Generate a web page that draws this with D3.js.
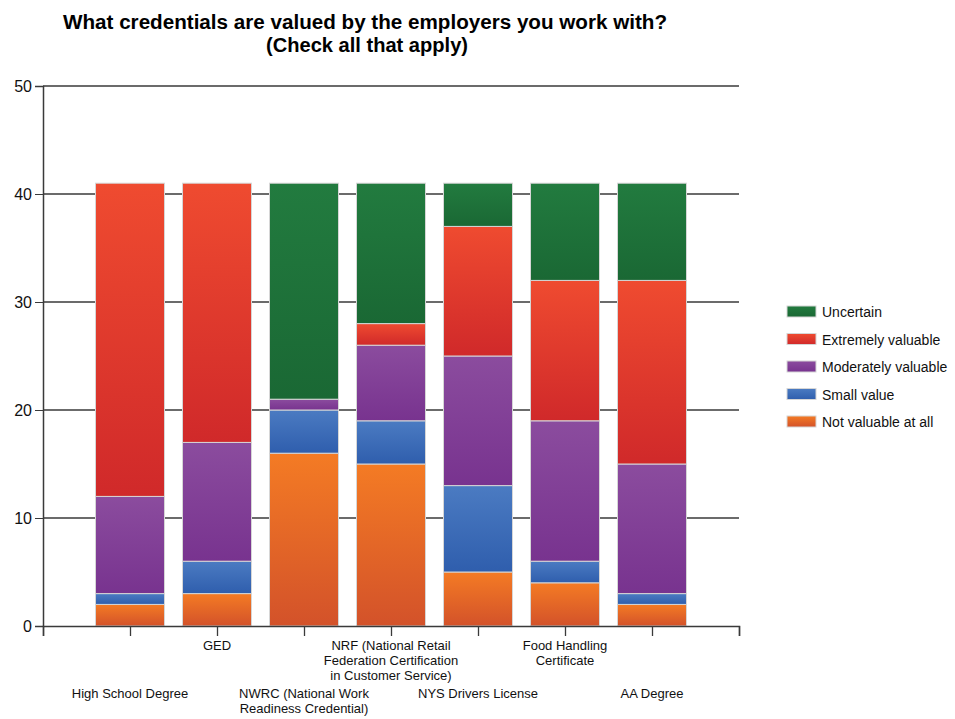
<!DOCTYPE html>
<html>
<head>
<meta charset="utf-8">
<script src="https://cdn.jsdelivr.net/npm/d3@7"></script>
<style>
  body { margin: 0; background: #fff; }
  text { font-family: "Liberation Sans", Arial, sans-serif; }
</style>
</head>
<body>
<script>
var categories = ["High School Degree", "GED", "NWRC (National Work Readiness Credential)",
                  "NRF (National Retail Federation Certification in Customer Service)",
                  "NYS Drivers License", "Food Handling Certificate", "AA Degree"];
// label lines as they wrap in the picture
var labelLines = [["High School Degree"], ["GED"], ["NWRC (National Work", "Readiness Credential)"],
                  ["NRF (National Retail", "Federation Certification", "in Customer Service)"],
                  ["NYS Drivers License"], ["Food Handling", "Certificate"], ["AA Degree"]];
var seriesNames = ["Not valuable at all", "Small value", "Moderately valuable", "Extremely valuable", "Uncertain"];
var notValuable = [2, 3, 16, 15, 5, 4, 2];
var smallValue  = [1, 3, 4, 4, 8, 2, 1];
var moderately  = [9, 11, 1, 7, 12, 13, 12];
var extremely   = [29, 24, 0, 2, 12, 13, 17];
var uncertain   = [0, 0, 20, 13, 4, 9, 9];
var yTicks = [0, 10, 20, 30, 40, 50];

var colorsTop = ["#f47b24", "#4b7bc2", "#8b4c9e", "#ef4b30", "#227b3f"];
var colorsBot = ["#d3522a", "#2f5ead", "#78338f", "#d0292a", "#1a6834"];

var W = 955, H = 719;
var svg = d3.select("body").append("svg").attr("width", W).attr("height", H);

var x = d3.scaleLinear().domain([0, 8]).range([43, 739]);
var y = d3.scaleLinear().domain([0, 50]).range([626, 86]);
var barW = 69;

// gradients, lighter at top
var defs = svg.append("defs");
seriesNames.forEach(function (s, i) {
  var g = defs.append("linearGradient").attr("id", "g" + i)
      .attr("x1", 0).attr("y1", 0).attr("x2", 0).attr("y2", 1);
  g.append("stop").attr("offset", "0%").attr("stop-color", colorsTop[i]);
  g.append("stop").attr("offset", "100%").attr("stop-color", colorsBot[i]);
});

// title (the original font is a condensed one, so squeeze it to width)
svg.append("text").attr("x", 365).attr("y", 29).attr("text-anchor", "middle")
   .attr("font-size", "20px").attr("font-weight", "bold")
   .attr("textLength", 604).attr("lengthAdjust", "spacingAndGlyphs")
   .text("What credentials are valued by the employers you work with?");
svg.append("text").attr("x", 367).attr("y", 52).attr("text-anchor", "middle")
   .attr("font-size", "20px").attr("font-weight", "bold")
   .attr("textLength", 202).attr("lengthAdjust", "spacingAndGlyphs")
   .text("(Check all that apply)");

// gridlines
svg.append("g").selectAll("line").data(yTicks.slice(1)).enter().append("line")
   .attr("x1", x(0)).attr("x2", x(8))
   .attr("y1", function (d) { return y(d); }).attr("y2", function (d) { return y(d); })
   .attr("stroke", "#3a3a3a").attr("stroke-width", 1.3);

// stacked bars
var table = categories.map(function (c, i) {
  return { cat: c, v: [notValuable[i], smallValue[i], moderately[i], extremely[i], uncertain[i]] };
});
var stack = d3.stack().keys([0, 1, 2, 3, 4]).value(function (d, k) { return d.v[k]; });
var layers = stack(table);

svg.append("g").selectAll("g").data(layers).enter().append("g")
   .attr("fill", function (d, i) { return "url(#g" + i + ")"; })
   .selectAll("rect").data(function (d) { return d.filter(function (p) { return p[1] > p[0]; }); })
   .enter().append("rect")
   .attr("x", function (d) { return x(table.indexOf(d.data) + 1) - barW / 2; })
   .attr("y", function (d) { return y(d[1]); })
   .attr("width", barW)
   .attr("height", function (d) { return y(d[0]) - y(d[1]); })
   .attr("stroke", "#d6d6d6").attr("stroke-width", 1);

// y axis
var yAxis = d3.axisLeft(y).tickValues(yTicks).tickSize(8).tickPadding(3);
var gy = svg.append("g").attr("transform", "translate(" + x(0) + ",0)").call(yAxis);
gy.select(".domain").attr("stroke", "#3a3a3a").attr("stroke-width", 1.5);
gy.selectAll(".tick line").attr("stroke", "#3a3a3a");
gy.selectAll(".tick text").attr("font-size", "16px").attr("fill", "#111")
  .style("font-family", "'Liberation Sans', Arial, sans-serif");

// x axis
var xAxis = d3.axisBottom(x).tickValues(d3.range(0, 9)).tickSize(10).tickFormat("");
var gx = svg.append("g").attr("transform", "translate(0," + y(0) + ")").call(xAxis);
gx.select(".domain").attr("stroke", "#3a3a3a").attr("stroke-width", 1.5);
gx.selectAll(".tick line").attr("stroke", "#3a3a3a").attr("stroke-width", 1.3);

// category labels, staggered rows
svg.append("g").selectAll("text").data(labelLines).enter().append("text")
   .attr("text-anchor", "middle").attr("font-size", "13px").attr("fill", "#111")
   .attr("transform", function (d, i) {
     return "translate(" + x(i + 1) + "," + (i % 2 === 1 ? 650 : 698) + ")";
   })
   .selectAll("tspan").data(function (d) { return d; }).enter().append("tspan")
   .attr("x", 0).attr("dy", function (d, j) { return j === 0 ? 0 : 15; })
   .text(function (d) { return d; });

// legend (Uncertain on top)
var legendOrder = [4, 3, 2, 1, 0];
var leg = svg.append("g").selectAll("g").data(legendOrder).enter().append("g")
   .attr("transform", function (d, i) { return "translate(787," + (306 + i * 27.5) + ")"; });
leg.append("rect").attr("width", 29).attr("height", 11)
   .attr("fill", function (d) { return "url(#g" + d + ")"; })
   .attr("stroke", "#d6d6d6");
leg.append("text").attr("x", 35).attr("y", 11).attr("font-size", "14px").attr("fill", "#111")
   .text(function (d) { return seriesNames[d]; });
</script>
</body>
</html>
